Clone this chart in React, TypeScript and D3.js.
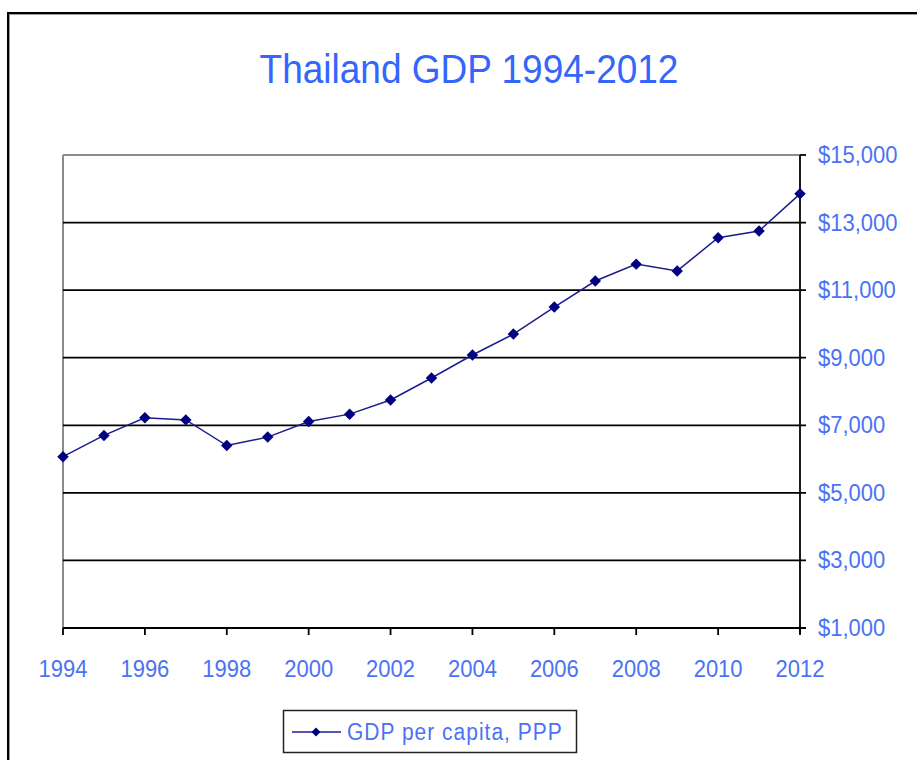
import React from "react";
import * as d3 from "d3";

const years = [1994, 1995, 1996, 1997, 1998, 1999, 2000, 2001, 2002, 2003, 2004, 2005, 2006, 2007, 2008, 2009, 2010, 2011, 2012];
const gdpPerCapita = [6070, 6700, 7220, 7160, 6400, 6650, 7110, 7330, 7750, 8400, 9080, 9700, 10500, 11270, 11770, 11570, 12550, 12750, 13850];
const yTicks = [1000, 3000, 5000, 7000, 9000, 11000, 13000, 15000];
const xTicks = [1994, 1996, 1998, 2000, 2002, 2004, 2006, 2008, 2010, 2012];
const title = "Thailand GDP 1994-2012";
const seriesName = "GDP per capita, PPP";

const W = 917;
const H = 760;
const plot = { left: 63, right: 800, top: 155, bottom: 628 };
const FONT = "'Liberation Sans', Arial, sans-serif";
const LABEL = "#4a72f5";
const TITLE = "#3466fb";
const NAVY = "#000080";

export default function App() {
  const x = d3.scaleLinear().domain([1994, 2012]).range([plot.left, plot.right]);
  const y = d3.scaleLinear().domain([1000, 15000]).range([plot.bottom, plot.top]);
  const line = d3
    .line<number>()
    .x((_, i) => x(years[i]))
    .y((d) => y(d));
  const diamond = d3.symbol().type(d3.symbolSquare).size(66)() as string;
  const legendDiamond = d3.symbol().type(d3.symbolSquare).size(40)() as string;

  return (
    <svg
      width={W}
      height={H}
      style={{ position: "absolute", left: 0, top: 0, background: "#fff" }}
      fontFamily={FONT}
    >
      {/* outer frame */}
      <line x1={8} y1={13} x2={W} y2={13} stroke="#000" strokeWidth={2} />
      <line x1={8} y1={12} x2={8} y2={H} stroke="#000" strokeWidth={2} />
      <line x1={9} y1={14.5} x2={W} y2={14.5} stroke="#999" strokeWidth={1} />
      <line x1={9.5} y1={14} x2={9.5} y2={H} stroke="#999" strokeWidth={1} />

      <text transform="translate(469,83) scale(1,1.08)" textAnchor="middle" fontSize={37} fill={TITLE}>
        {title}
      </text>

      {/* plot frame (gray left/top) */}
      <line x1={plot.left} y1={plot.top} x2={plot.right} y2={plot.top} stroke="#8c8c8c" strokeWidth={2} />
      <line x1={plot.left} y1={plot.top} x2={plot.left} y2={plot.bottom} stroke="#8c8c8c" strokeWidth={2} />

      {/* gridlines + right ticks */}
      {yTicks.map((t) => (
        <line
          key={"g" + t}
          x1={t === 15000 ? plot.right : plot.left}
          x2={plot.right + 6}
          y1={y(t)}
          y2={y(t)}
          stroke="#000"
          strokeWidth={1.8}
        />
      ))}
      {/* right axis */}
      <line x1={plot.right} x2={plot.right} y1={plot.top} y2={plot.bottom + 6} stroke="#000" strokeWidth={1.8} />
      {/* bottom ticks */}
      {xTicks.map((t) => (
        <line key={"xt" + t} x1={x(t)} x2={x(t)} y1={plot.bottom} y2={plot.bottom + 7} stroke="#000" strokeWidth={1.8} />
      ))}

      {/* y labels */}
      {yTicks.map((t) => (
        <text key={"yl" + t} transform={`translate(818,${y(t) + 8}) scale(1,1.1)`} fontSize={22} fill={LABEL}>
          {"$" + d3.format(",")(t)}
        </text>
      ))}
      {/* x labels */}
      {xTicks.map((t) => (
        <text key={"xl" + t} transform={`translate(${x(t)},677) scale(1,1.1)`} textAnchor="middle" fontSize={22} fill={LABEL}>
          {t}
        </text>
      ))}

      {/* series */}
      <path d={line(gdpPerCapita) as string} fill="none" stroke="#1c1c90" strokeWidth={1.5} />
      {gdpPerCapita.map((v, i) => (
        <path key={"m" + i} d={diamond} transform={`translate(${x(years[i])},${y(v)}) rotate(45)`} fill={NAVY} />
      ))}

      {/* legend */}
      <rect x={283.5} y={710.5} width={293} height={42} fill="#fff" stroke="#222" strokeWidth={1.5} />
      <line x1={292} x2={341} y1={732} y2={732} stroke="#1c1c90" strokeWidth={1.5} />
      <path d={legendDiamond} transform="translate(316,732) rotate(45)" fill={NAVY} />
      <text transform="translate(347,740) scale(1,1.1)" fontSize={21} letterSpacing={1} fill={LABEL}>
        {seriesName}
      </text>
    </svg>
  );
}
